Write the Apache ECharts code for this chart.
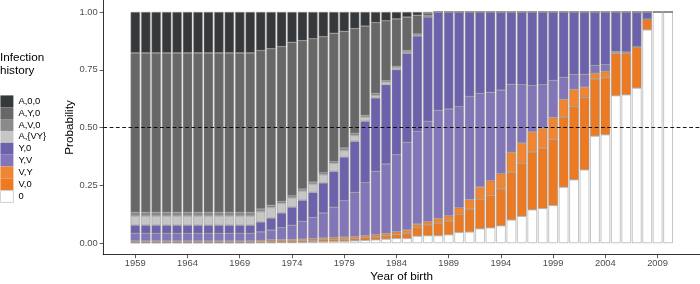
<!DOCTYPE html>
<html>
<head>
<meta charset="utf-8">
<script src="https://cdn.jsdelivr.net/npm/echarts@6/dist/echarts.min.js"></script>
<style>html,body{margin:0;padding:0;background:#fff}#c{width:700px;height:284px}</style>
</head>
<body>
<div id="c"></div>
<script>
const years = ['1959','1960','1961','1962','1963','1964','1965','1966','1967','1968','1969','1970','1971','1972','1973','1974','1975','1976','1977','1978','1979','1980','1981','1982','1983','1984','1985','1986','1987','1988','1989','1990','1991','1992','1993','1994','1995','1996','1997','1998','1999','2000','2001','2002','2003','2004','2005','2006','2007','2008','2009','2010'];
const xTicks = [1959,1964,1969,1974,1979,1984,1989,1994,1999,2004,2009];
const yTicks = [0,0.25,0.5,0.75,1];

const s0    = [0.001,0.001,0.001,0.001,0.001,0.001,0.001,0.001,0.001,0.001,0.001,0.001,0.002,0.002,0.003,0.003,0.004,0.005,0.006,0.007,0.008,0.010,0.012,0.014,0.017,0.020,0.020,0.030,0.032,0.032,0.036,0.046,0.048,0.062,0.066,0.075,0.100,0.116,0.144,0.150,0.163,0.242,0.274,0.317,0.463,0.469,0.638,0.642,0.671,0.923,1,1];
const sV0   = [0.004,0.004,0.004,0.004,0.004,0.004,0.004,0.004,0.004,0.004,0.004,0.004,0.005,0.006,0.006,0.006,0.006,0.007,0.008,0.009,0.009,0.009,0.011,0.012,0.014,0.017,0.023,0.038,0.046,0.054,0.059,0.078,0.099,0.128,0.140,0.159,0.207,0.227,0.250,0.261,0.284,0.303,0.318,0.314,0.247,0.246,0.182,0.180,0.177,0.045,0,0];
const sVY   = [0.004,0.004,0.004,0.004,0.004,0.004,0.004,0.004,0.004,0.004,0.004,0.004,0.005,0.006,0.006,0.007,0.007,0.007,0.008,0.009,0.009,0.009,0.009,0.010,0.011,0.012,0.013,0.014,0.014,0.020,0.023,0.029,0.041,0.052,0.064,0.066,0.086,0.090,0.087,0.087,0.097,0.077,0.073,0.044,0.025,0.028,0.005,0.003,0.002,0.002,0,0];
const sYV   = [0.033,0.033,0.033,0.033,0.033,0.033,0.033,0.033,0.033,0.033,0.033,0.033,0.036,0.042,0.051,0.061,0.077,0.091,0.108,0.130,0.157,0.191,0.229,0.274,0.300,0.333,0.380,0.401,0.435,0.468,0.462,0.437,0.447,0.406,0.382,0.362,0.294,0.252,0.200,0.187,0.160,0.095,0.064,0.055,0.033,0.029,0.004,0.002,0.001,0,0,0];
const sY0   = [0.035,0.035,0.035,0.035,0.035,0.035,0.035,0.035,0.035,0.035,0.035,0.035,0.043,0.052,0.064,0.078,0.091,0.109,0.130,0.155,0.189,0.221,0.266,0.318,0.343,0.368,0.385,0.413,0.451,0.426,0.420,0.410,0.365,0.352,0.348,0.338,0.313,0.315,0.319,0.315,0.296,0.283,0.271,0.270,0.232,0.228,0.171,0.173,0.149,0.030,0,0];
const sAVY  = [0.040,0.040,0.040,0.040,0.040,0.040,0.040,0.040,0.040,0.040,0.040,0.040,0.045,0.046,0.042,0.040,0.040,0.036,0.036,0.035,0.029,0.026,0.018,0.011,0.012,0.009,0.006,0.004,0.002,0,0,0,0,0,0,0,0,0,0,0,0,0,0,0,0,0,0,0,0,0,0,0];
const sAV0  = [0.016,0.016,0.016,0.016,0.016,0.016,0.016,0.016,0.016,0.016,0.016,0.016,0.011,0.009,0.008,0.010,0.009,0.009,0.008,0.007,0.010,0.009,0.008,0.009,0.006,0.006,0.006,0.005,0.004,0,0,0,0,0,0,0,0,0,0,0,0,0,0,0,0,0,0,0,0,0,0,0];
const sAY0  = [0.690,0.690,0.690,0.690,0.690,0.690,0.690,0.690,0.690,0.690,0.690,0.690,0.686,0.678,0.670,0.664,0.642,0.620,0.589,0.556,0.505,0.453,0.386,0.306,0.259,0.205,0.145,0.081,0.012,0,0,0,0,0,0,0,0,0,0,0,0,0,0,0,0,0,0,0,0,0,0,0];
const sA00  = [0.177,0.177,0.177,0.177,0.177,0.177,0.177,0.177,0.177,0.177,0.177,0.177,0.167,0.159,0.150,0.131,0.124,0.116,0.107,0.092,0.084,0.072,0.061,0.046,0.038,0.030,0.022,0.014,0.004,0,0,0,0,0,0,0,0,0,0,0,0,0,0,0,0,0,0,0,0,0,0,0];

const seriesDefs = [
  {name:'0',      data:s0,   color:'#ffffff'},
  {name:'V,0',    data:sV0,  color:'#ec7a22'},
  {name:'V,Y',    data:sVY,  color:'#f08532'},
  {name:'Y,V',    data:sYV,  color:'#8276b9'},
  {name:'Y,0',    data:sY0,  color:'#6c62ac'},
  {name:'A,{VY}', data:sAVY, color:'#c6c6c6'},
  {name:'A,V,0',  data:sAV0, color:'#8a8a8a'},
  {name:'A,Y,0',  data:sAY0, color:'#676767'},
  {name:'A,0,0',  data:sA00, color:'#36393b'}
];
const legendOrder = ['A,0,0','A,Y,0','A,V,0','A,{VY}','Y,0','Y,V','V,Y','V,0','0'];

const FONT = 'Liberation Sans, Arial, sans-serif';
const series = seriesDefs.map(d => ({
  name: d.name,
  type: 'bar',
  stack: 'total',
  xAxisIndex: 1,
  yAxisIndex: 1,
  barWidth: '90%',
  data: d.data,
  itemStyle: {color: d.color, borderColor: '#8c8c8c', borderWidth: 0.5},
  emphasis: {disabled: true}
}));
series.push({
  type: 'line', xAxisIndex: 0, yAxisIndex: 0, data: [], z: 10, silent: true,
  markLine: {
    silent: true,
    symbol: ['none','none'],
    label: {show: false},
    lineStyle: {color: '#000', type: [3.8, 2.5], width: 0.9},
    data: [{yAxis: 0.5}]
  }
});

const legendData = legendOrder.map(n => n === '0'
  ? {name: n, itemStyle: {borderColor: '#c4c4c4', borderWidth: 0.8}}
  : {name: n});

const chart = echarts.init(document.getElementById('c'), null, {renderer: 'canvas'});
chart.setOption({
  animation: false,
  textStyle: {fontFamily: FONT},
  title: {
    text: 'Infection\nhistory', left: 0, top: 51, padding: 0,
    textStyle: {fontSize: 11.7, fontWeight: 'normal', color: '#000', lineHeight: 13, fontFamily: FONT}
  },
  legend: {
    orient: 'vertical', left: 0, top: 95.4, padding: 0,
    itemWidth: 13, itemHeight: 11.85, itemGap: 0,
    icon: 'rect',
    selectedMode: false,
    itemStyle: {borderWidth: 0},
    data: legendData,
    textStyle: {fontSize: 9.4, color: '#000', fontFamily: FONT}
  },
  grid: [
    {left: 103.3, right: 0, top: 0.45, bottom: 29.45, containLabel: false, outerBoundsMode: 'none'},
    {left: 130.1, width: 543.2, top: 0.45, bottom: 29.45, containLabel: false, outerBoundsMode: 'none'}
  ],
  xAxis: [{
    type: 'value', gridIndex: 0, min: 1955.94, max: 2013.06,
    axisLine: {show: true, onZero: false, lineStyle: {color: '#000', width: 0.8}},
    axisTick: {show: true, length: 3.7, customValues: xTicks, lineStyle: {color: '#333', width: 0.8}},
    axisLabel: {customValues: xTicks, formatter: v => String(v), fontSize: 9.4, color: '#4d4d4d', margin: 4.8, fontFamily: FONT},
    splitLine: {show: false},
    name: 'Year of birth', nameLocation: 'middle', nameGap: 16, nameMoveOverlap: false,
    nameTextStyle: {fontSize: 11.7, color: '#000', fontFamily: FONT}
  }, {
    type: 'category', gridIndex: 1, data: years, show: false, boundaryGap: true
  }],
  yAxis: [{
    type: 'value', gridIndex: 0, min: -0.05, max: 1.05,
    axisLine: {show: true, onZero: false, lineStyle: {color: '#000', width: 0.8}},
    axisTick: {show: true, length: 3.7, customValues: yTicks, lineStyle: {color: '#333', width: 0.8}},
    axisLabel: {customValues: yTicks, formatter: v => v.toFixed(2), fontSize: 9.4, color: '#4d4d4d', margin: 5.5, fontFamily: FONT},
    splitLine: {show: false},
    name: 'Probability', nameLocation: 'middle', nameGap: 28, nameRotate: 90, nameMoveOverlap: false,
    nameTextStyle: {fontSize: 11.7, color: '#000', fontFamily: FONT}
  }, {
    type: 'value', gridIndex: 1, min: -0.05, max: 1.05, show: false, splitLine: {show: false}
  }],
  series: series
});
</script>
</body>
</html>
